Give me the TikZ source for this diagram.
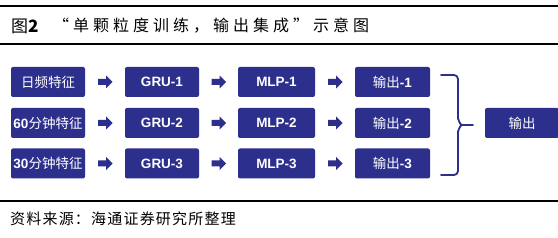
\documentclass[tikz,border=0pt]{standalone}
\usepackage{fontspec}
\setmainfont{Liberation Sans}
\newfontfamily\cjk{Noto Sans CJK SC}
\newfontfamily\cjktitle[LetterSpace=25]{Noto Sans CJK SC}
\newfontfamily\cjksrc[LetterSpace=8]{Noto Sans CJK SC}
\usetikzlibrary{calc}
\definecolor{navy}{HTML}{2D2F8C}
\tikzset{
  box/.style={fill=navy, rounded corners=2pt, minimum height=30pt, inner sep=0pt,
    text=white, font=\fontsize{13.5}{14}\selectfont\bfseries},
  rule/.style={line width=1.3pt, black},
  brace/.style={line width=1.8pt, navy, line cap=round, line join=round},
}
\newcommand{\blkarrow}[2]{%
  \path let \p1=($(#1.east)!0.5!(#2.west)$) in
    [fill=navy] (\x1-7pt,\y1-3pt) -- (\x1+1pt,\y1-3pt) -- (\x1+1pt,\y1-6.5pt)
    -- (\x1+7.5pt,\y1) -- (\x1+1pt,\y1+6.5pt) -- (\x1+1pt,\y1+3pt)
    -- (\x1-7pt,\y1+3pt) -- cycle;}
\begin{document}
\begin{tikzpicture}[x=1pt,y=-1pt]
\useasboundingbox (0,0) rectangle (558,238);
\fill[white] (0,0) rectangle (558,238);
% rules
\coordinate (r1a) at (0,6); \coordinate (r1b) at (558,6);
\coordinate (r2a) at (0,44); \coordinate (r2b) at (558,44);
\coordinate (r3a) at (0,201); \coordinate (r3b) at (558,201);
\draw[rule] (r1a) -- (r1b);
\draw[rule] (r2a) -- (r2b);
\draw[rule] (r3a) -- (r3b);
% title
\node[anchor=west, inner sep=0pt] (tnum) at (11,26) {\cjk\fontsize{17}{18}\selectfont 图\textbf{2}};
\node[anchor=west, inner sep=0pt] (title) at (53,26) {\cjktitle\fontsize{16}{18}\selectfont “单颗粒度训练，输出集成”示意图};
% source
\node[anchor=west, inner sep=0pt] (src) at (10,219) {\cjksrc\fontsize{15}{16}\selectfont 资料来源：海通证券研究所整理};
% boxes
\node[box, minimum width=74pt] (f1) at (48,82) {\cjk\mdseries 日频特征};
\node[box, minimum width=74pt] (f2) at (48,123) {\textbf{60}\cjk\mdseries 分钟特征};
\node[box, minimum width=74pt] (f3) at (48,163.5) {\textbf{30}\cjk\mdseries 分钟特征};
\node[box, minimum width=74pt] (g1) at (162,82) {GRU-1};
\node[box, minimum width=74pt] (g2) at (162,123) {GRU-2};
\node[box, minimum width=74pt] (g3) at (162,163.5) {GRU-3};
\node[box, minimum width=77pt] (m1) at (276.5,82) {MLP-1};
\node[box, minimum width=77pt] (m2) at (276.5,123) {MLP-2};
\node[box, minimum width=77pt] (m3) at (276.5,163.5) {MLP-3};
\node[box, minimum width=75pt] (o1) at (392.5,82) {{\cjk\mdseries 输出}-1};
\node[box, minimum width=75pt] (o2) at (392.5,123) {{\cjk\mdseries 输出}-2};
\node[box, minimum width=75pt] (o3) at (392.5,163.5) {{\cjk\mdseries 输出}-3};
\node[box, minimum width=74pt] (out) at (522,123) {\cjk\mdseries 输出};
% arrows
\blkarrow{f1}{g1}\blkarrow{f2}{g2}\blkarrow{f3}{g3}
\blkarrow{g1}{m1}\blkarrow{g2}{m2}\blkarrow{g3}{m3}
\blkarrow{m1}{o1}\blkarrow{m2}{o2}\blkarrow{m3}{o3}
% brace
\coordinate (bt) at (441,75);
\coordinate (bb) at (441,175);
\coordinate (bm) at (473,125);
\draw[brace] (bt) -- (454,75) to[out=0,in=90] (458,79) -- (458,119)
  to[out=90,in=180] (462,125) -- (bm);
\draw[brace] (bb) -- (454,175) to[out=0,in=270] (458,171) -- (458,131)
  to[out=270,in=180] (462,125);
\end{tikzpicture}
\end{document}
